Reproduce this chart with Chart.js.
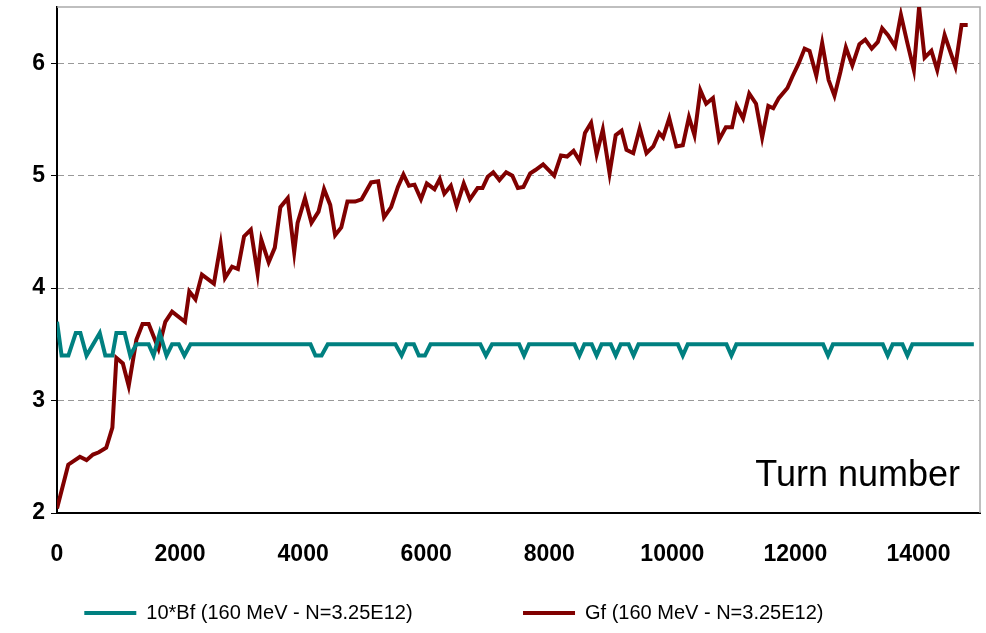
<!DOCTYPE html>
<html>
<head>
<script src="https://cdn.jsdelivr.net/npm/chart.js@4"></script>
<style>
  body { margin: 0; background: #fff; }
  #wrap { width: 986px; height: 633px; }
</style>
</head>
<body>
<div id="wrap"><canvas id="myChart"></canvas></div>
<script>
// Gf series (turn, value)
const gfTurns = [0, 183, 372, 480, 585, 680, 800, 900, 965, 1070, 1165, 1290, 1390, 1490, 1650, 1760, 1870, 2080, 2150, 2250,
  2355, 2550, 2660, 2730, 2845, 2940, 3040, 3150, 3260, 3320, 3440, 3540, 3630, 3750, 3855, 3910, 4030, 4135, 4250, 4340,
  4440, 4520, 4620, 4720, 4845, 4950, 5105, 5220, 5315, 5430, 5540, 5630, 5720, 5810, 5915, 6010, 6135, 6220, 6295, 6400,
  6495, 6610, 6710, 6835, 6915, 7000, 7090, 7190, 7300, 7400, 7490, 7580, 7690, 7775, 7900, 8080, 8190, 8290, 8395, 8495,
  8580, 8680, 8770, 8870, 8980, 9080, 9175, 9255, 9365, 9470, 9580, 9690, 9785, 9850, 9950, 10065, 10170, 10270, 10360, 10455,
  10550, 10660, 10760, 10870, 10970, 11045, 11150, 11250, 11360, 11460, 11560, 11640, 11730, 11870, 11950, 12055, 12150, 12230, 12340, 12435,
  12540, 12635, 12730, 12820, 12925, 13040, 13135, 13240, 13340, 13410, 13505, 13620, 13715, 13815, 13925, 14010, 14100, 14210, 14305, 14425,
  14600, 14700, 14800];
const gfValues = [2.04, 2.43, 2.50, 2.47, 2.52, 2.54, 2.58, 2.76, 3.38, 3.33, 3.13, 3.54, 3.68, 3.68, 3.46, 3.70, 3.79, 3.70, 3.97, 3.90,
  4.12, 4.04, 4.39, 4.09, 4.19, 4.17, 4.46, 4.52, 4.13, 4.43, 4.23, 4.36, 4.72, 4.80, 4.32, 4.58, 4.80, 4.58, 4.68, 4.88,
  4.74, 4.47, 4.54, 4.77, 4.77, 4.79, 4.94, 4.95, 4.63, 4.72, 4.90, 5.01, 4.91, 4.92, 4.79, 4.93, 4.88, 4.97, 4.84, 4.91,
  4.73, 4.93, 4.79, 4.89, 4.89, 4.99, 5.03, 4.96, 5.03, 5.00, 4.89, 4.90, 5.02, 5.05, 5.10, 5.00, 5.18, 5.17, 5.22, 5.13,
  5.38, 5.47, 5.19, 5.41, 5.02, 5.36, 5.40, 5.23, 5.20, 5.42, 5.20, 5.26, 5.38, 5.34, 5.51, 5.26, 5.27, 5.52, 5.36, 5.76,
  5.64, 5.69, 5.32, 5.43, 5.43, 5.62, 5.51, 5.73, 5.64, 5.34, 5.62, 5.60, 5.69, 5.78, 5.88, 6.00, 6.13, 6.11, 5.89, 6.18,
  5.85, 5.71, 5.92, 6.14, 5.98, 6.17, 6.21, 6.13, 6.19, 6.31, 6.25, 6.15, 6.43, 6.19, 5.94, 6.50, 6.05, 6.11, 5.94, 6.25,
  5.97, 6.34, 6.34];

// 10*Bf series (turn, value)
const bfTurns = [0, 75, 185, 305, 380, 480, 695, 785, 900, 965, 1100, 1190, 1290, 1490, 1570, 1670, 1780, 1870, 1980, 2070, 2170,
  4120, 4200, 4300, 4400, 5500, 5600, 5680, 5800, 5880, 5980, 6070, 6880, 6970, 7070,
  7510, 7590, 7670, 8410, 8490, 8570, 8690, 8770, 8850, 9000, 9080, 9160, 9290, 9370, 9450,
  10090, 10170, 10250, 10880, 10960, 11040, 12450, 12530, 12610, 13420, 13500, 13580, 13740, 13820, 13900, 14900];
const bfValues = [3.7, 3.4, 3.4, 3.6, 3.6, 3.4, 3.6, 3.4, 3.4, 3.6, 3.6, 3.4, 3.5, 3.5, 3.4, 3.6, 3.4, 3.5, 3.5, 3.4, 3.5,
  3.5, 3.4, 3.4, 3.5, 3.5, 3.4, 3.5, 3.5, 3.4, 3.4, 3.5, 3.5, 3.4, 3.5,
  3.5, 3.4, 3.5, 3.5, 3.4, 3.5, 3.5, 3.4, 3.5, 3.5, 3.4, 3.5, 3.5, 3.4, 3.5,
  3.5, 3.4, 3.5, 3.5, 3.4, 3.5, 3.5, 3.4, 3.5, 3.5, 3.4, 3.5, 3.5, 3.4, 3.5, 3.5];

const xTicks = [0, 2000, 4000, 6000, 8000, 10000, 12000, 14000];
const yTicks = [2, 3, 4, 5, 6];

function toPoints(xs, ys) {
  return xs.map(function (x, i) { return { x: x, y: ys[i] }; });
}

const legendPad = [17, 13];

const ctx = document.getElementById("myChart");
new Chart(ctx, {
  type: "line",
  data: {
    datasets: [
      {
        label: "10*Bf (160 MeV - N=3.25E12)",
        data: toPoints(bfTurns, bfValues),
        borderColor: "#008080",
        backgroundColor: "#008080",
        borderWidth: 4,
        pointRadius: 0,
        tension: 0,
        fill: false,
      },
      {
        label: "Gf (160 MeV - N=3.25E12)",
        data: toPoints(gfTurns, gfValues),
        borderColor: "#800000",
        backgroundColor: "#800000",
        borderWidth: 4,
        pointRadius: 0,
        tension: 0,
        fill: false,
      },
    ],
  },
  options: {
    responsive: true,
    maintainAspectRatio: false,
    animation: false,
    layout: { padding: { top: 7, right: 6, left: 0, bottom: 0 } },
    plugins: {
      tooltip: { enabled: false },
      legend: {
        position: "bottom",
        labels: {
          usePointStyle: true,
          pointStyle: "line",
          pointStyleWidth: 52,
          padding: 16,
          color: "#000",
          font: { family: "Liberation Sans", size: 20 },
          generateLabels: function (chart) {
            const items = Chart.defaults.plugins.legend.labels.generateLabels(chart);
            items.forEach(function (it, i) { it.lineWidth = 4; it.text = it.text + " ".repeat(legendPad[i]); });
            return items;
          },
        },
      },
    },
    scales: {
      x: {
        type: "linear",
        min: 0,
        max: 15000,
        afterBuildTicks: function (axis) {
          axis.ticks = xTicks.map(function (v) { return { value: v }; });
        },
        afterFit: function (axis) { axis.height = 74; },
        grid: { display: false, drawTicks: true, tickLength: 8, tickColor: "#000" },
        border: { color: "#000", width: 2 },
        ticks: {
          color: "#000",
          font: { family: "Liberation Sans", size: 23, weight: "bold" },
          maxRotation: 0,
          padding: 20,
          callback: function (v) { return String(v); },
        },
      },
      y: {
        min: 2,
        max: 6.5,
        afterBuildTicks: function (axis) {
          axis.ticks = yTicks.map(function (v) { return { value: v }; });
        },
        afterFit: function (axis) { axis.width = 57; axis.paddingTop = 0; },
        grid: {
          color: "#999",
          tickColor: "#000",
          tickLength: 6,
          tickBorderDash: [],
        },
        border: { color: "#000", width: 2, dash: [6, 4] },
        ticks: {
          color: "#000",
          font: { family: "Liberation Sans", size: 23, weight: "bold" },
          padding: 6,
        },
      },
    },
  },
  plugins: [
    {
      id: "frameAndText",
      beforeDatasetsDraw(chart) {
        const c = chart.ctx;
        const a = chart.chartArea;
        c.save();
        c.strokeStyle = "#aaa";
        c.lineWidth = 1.5;
        c.beginPath();
        c.moveTo(a.left, a.top);
        c.lineTo(a.right, a.top);
        c.lineTo(a.right, a.bottom);
        c.stroke();
        c.restore();
      },
      afterDatasetsDraw(chart) {
        const c = chart.ctx;
        const a = chart.chartArea;
        c.save();
        c.fillStyle = "#000";
        c.font = "36px 'Liberation Sans'";
        c.textAlign = "right";
        c.textBaseline = "middle";
        c.fillText("Turn number", a.right - 20, chart.scales.y.getPixelForValue(2.33));
        c.restore();
      },
    },
  ],
});
</script>
</body>
</html>
